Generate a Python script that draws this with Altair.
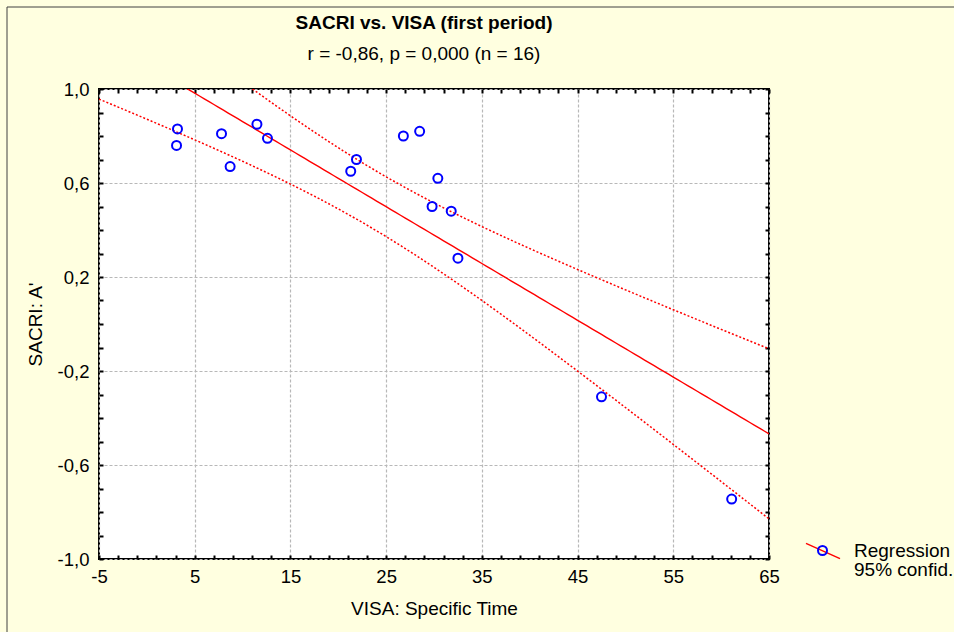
import altair as alt
import numpy as np
import pandas as pd

# ---------------- data ----------------
visa = [3.2, 3.1, 7.8, 8.7, 11.5, 12.6, 21.9, 21.3, 26.8, 28.5, 30.4, 29.8, 31.8, 32.5, 47.5, 61.1]
sacri = [0.83, 0.76, 0.81, 0.67, 0.85, 0.79, 0.70, 0.65, 0.80, 0.82, 0.62, 0.50, 0.48, 0.28, -0.31, -0.745]

x_major = [-5, 5, 15, 25, 35, 45, 55, 65]
y_major = [-1.0, -0.6, -0.2, 0.2, 0.6, 1.0]
x_minor = list(range(-5, 66, 2))
y_minor = [round(-1 + 0.1 * i, 1) for i in range(21)]

title_text = "SACRI vs. VISA (first period)"
subtitle_text = "r = -0,86, p = 0,000 (n = 16)"
x_title = "VISA: Specific Time"
y_title = "SACRI: A'"
legend_labels = ["Regression", "95% confid."]

# ---------------- regression + 95% confidence band from the points ----------------
xa = np.array(visa)
ya = np.array(sacri)
n = len(xa)
slope, intercept = np.polyfit(xa, ya, 1)
resid = ya - (intercept + slope * xa)
s = np.sqrt((resid ** 2).sum() / (n - 2))
sxx = ((xa - xa.mean()) ** 2).sum()
T = 2.1448  # t(0.975, 14)
xg = np.linspace(-5, 65, 141)
fit = intercept + slope * xg
half = T * s * np.sqrt(1.0 / n + (xg - xa.mean()) ** 2 / sxx)

pts = pd.DataFrame({"x": visa, "y": sacri, "pt": legend_labels[0]})
reg = pd.DataFrame({"x": xg, "y": fit, "lab": legend_labels[0]})
ci = pd.concat([
    pd.DataFrame({"x": xg, "y": fit + half, "band": "upper", "ci": legend_labels[1]}),
    pd.DataFrame({"x": xg, "y": fit - half, "band": "lower", "ci": legend_labels[1]}),
])

F = "Liberation Sans"
W, H = 670, 470

xs = alt.Scale(domain=[-5, 65], nice=False, zero=False)
ys = alt.Scale(domain=[-1, 1], nice=False, zero=False)

x_lab = "replace(format(datum.value, 'd'), '\u2212', '-')"
y_lab = "replace(replace(format(datum.value, '.1f'), '.', ','), '\u2212', '-')"

GRID = "#B8B8B8"
ax_x_main = alt.Axis(orient="bottom", values=x_major, title=x_title, labelExpr=x_lab,
                     ticks=False, domain=False, grid=True, gridColor=GRID,
                     gridDash=[3, 2], gridWidth=1.2, labelFont=F, labelFontSize=18.5,
                     labelColor="black", labelPadding=8, labelFlush=False,
                     titleFont=F, titleFontSize=19, titleFontWeight="normal",
                     titleColor="black", titlePadding=14)
ax_y_main = alt.Axis(orient="left", values=y_major, title=y_title, labelExpr=y_lab,
                     ticks=False, domain=False, grid=True, gridColor=GRID,
                     gridDash=[3, 2], gridWidth=1.2, labelFont=F, labelFontSize=18.5,
                     labelColor="black", labelPadding=10, labelFlush=False,
                     titleFont=F, titleFontSize=19, titleFontWeight="normal",
                     titleColor="black", titlePadding=12)

def tick_axis(orient, offset, values):
    return alt.Axis(orient=orient, offset=offset, values=values, labels=False,
                    domain=False, grid=False, ticks=True, tickSize=4, tickWidth=2,
                    tickColor="black", title=None)

leg_common = dict(orient="none", title=None, padding=0, labelFont=F,
                  labelFontSize=19, labelColor="black", labelOffset=13)

ci_layer = alt.Chart(ci).mark_line(color="#FF0000", strokeWidth=1.5, clip=True).encode(
    x=alt.X("x:Q", scale=xs, axis=tick_axis("bottom", -H, x_minor)),
    y=alt.Y("y:Q", scale=ys, axis=tick_axis("left", -W, y_minor)),
    detail="band:N",
    strokeDash=alt.StrokeDash("ci:N", scale=alt.Scale(range=[[2, 2]]),
                              legend=alt.Legend(legendX=706, legendY=463,
                                                symbolType="M-1,-0.45L1,0.45",
                                                symbolSize=1156, symbolOpacity=0,
                                                **leg_common)),
)

reg_layer = alt.Chart(reg).mark_line(strokeWidth=1.4, clip=True).encode(
    x=alt.X("x:Q", scale=xs, axis=tick_axis("top", -H, x_minor)),
    y=alt.Y("y:Q", scale=ys, axis=tick_axis("right", -W, y_minor)),
    color=alt.Color("lab:N", scale=alt.Scale(range=["#FF0000"]),
                    legend=alt.Legend(legendX=706, legendY=444,
                                      symbolType="M-1,-0.45L1,0.45",
                                      symbolSize=1156, symbolStrokeWidth=1.4,
                                      **leg_common)),
)

pt_layer = alt.Chart(pts).mark_point(shape="circle", filled=False, size=81,
                                     strokeWidth=2, opacity=1).encode(
    x=alt.X("x:Q", scale=xs, axis=ax_x_main),
    y=alt.Y("y:Q", scale=ys, axis=ax_y_main),
    stroke=alt.Stroke("pt:N", scale=alt.Scale(range=["#0000FF"]),
                      legend=alt.Legend(orient="none", legendX=718, legendY=456,
                                        title=None, padding=0, symbolType="circle",
                                        symbolSize=81, symbolStrokeWidth=2,
                                        labelExpr="''", labelFontSize=1)),
)

frame = pd.DataFrame({"k": [0]})
border_top = alt.Chart(frame).mark_rule(color="#404040", strokeWidth=1).encode(
    x=alt.value(-92), x2=alt.value(W + 200), y=alt.value(-82))
border_left = alt.Chart(frame).mark_rule(color="#404040", strokeWidth=1).encode(
    x=alt.value(-92), y=alt.value(-82), y2=alt.value(H + 100))

chart = alt.layer(border_top, border_left, ci_layer, reg_layer, pt_layer).resolve_axis(
    x="independent", y="independent"
).properties(
    width=W, height=H,
    autosize=alt.AutoSizeParams(type="none"),
    padding={"left": 99, "top": 89, "right": 954 - 99 - W, "bottom": 632 - 89 - H},
    background="#FFFFE0",
    title=alt.TitleParams(text=title_text, subtitle=subtitle_text, anchor="middle",
                          font=F, subtitleFont=F, fontSize=19, subtitleFontSize=19,
                          fontWeight="bold", color="black", subtitleColor="black",
                          offset=0, subtitlePadding=12, dx=-10, dy=57),
).configure_view(fill="white", stroke="black", strokeWidth=2)

chart.save("out.html", embed_options={"renderer": "svg", "actions": False})
